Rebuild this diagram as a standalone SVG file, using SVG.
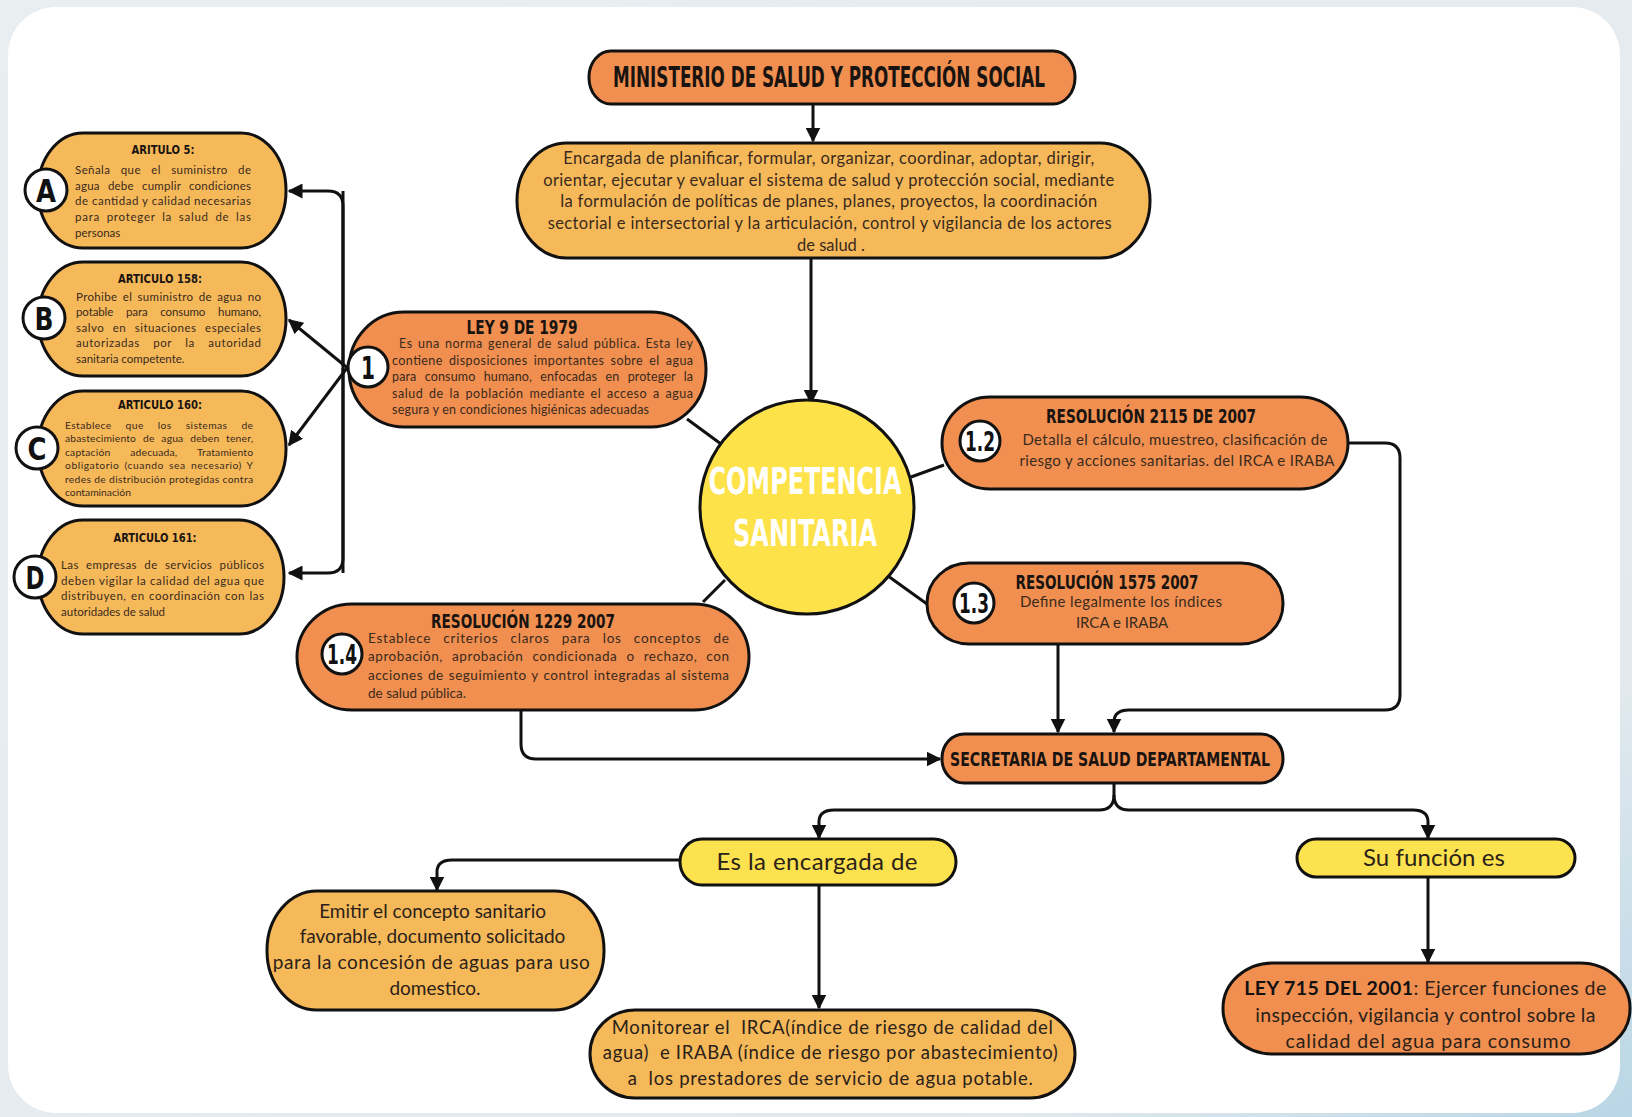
<svg xmlns="http://www.w3.org/2000/svg" width="1632" height="1117" viewBox="0 0 1632 1117">
<defs>
<marker id="ah" viewBox="0 0 10 10" refX="9" refY="5" markerUnits="userSpaceOnUse" markerWidth="15" markerHeight="15" orient="auto">
<path d="M0,0 L10,5 L0,10 z" fill="#111"/>
</marker>
<linearGradient id="bg" x1="0" y1="0" x2="1" y2="1">
<stop offset="0" stop-color="#e9eef1"/>
<stop offset="0.8" stop-color="#e3eaee"/>
<stop offset="1" stop-color="#b9d6e6"/>
</linearGradient>
<style>
.or{fill:#f08f50;stroke:#111;stroke-width:3}
.lo{fill:#f6b95a;stroke:#111;stroke-width:3}
.ye{fill:#fde24f;stroke:#111;stroke-width:3}
.badge{fill:#fff;stroke:#111;stroke-width:3}
.bt{font-family:"Liberation Sans Narrow","DejaVu Sans Condensed","DejaVu Sans",sans-serif;font-weight:bold;fill:#111;text-anchor:middle}
.tt{font-family:"Liberation Sans Narrow","DejaVu Sans Condensed","DejaVu Sans",sans-serif;font-weight:bold;fill:#1a1410;text-anchor:middle}
.body{font-family:Lato,"Open Sans",sans-serif;fill:#3a2a1c}
.mid{text-anchor:middle}
.con{fill:none;stroke:#111;stroke-width:3}
</style>
</defs>
<rect x="0" y="0" width="1632" height="1117" fill="url(#bg)"/>
<rect x="8" y="7" width="1612" height="1106" rx="48" ry="48" fill="#ffffff"/>

<g id="connectors">
<path class="con" d="M813 104 V141" marker-end="url(#ah)"/>
<path class="con" d="M811 258 V403" marker-end="url(#ah)"/>
<path class="con" d="M343 366 V206 Q343 191 328 191 H289" marker-end="url(#ah)"/>
<path class="con" d="M343 368 V558 Q343 573 328 573 H289" marker-end="url(#ah)"/>
<path class="con" d="M350 370 L289 320" marker-end="url(#ah)"/>
<path class="con" d="M350 364 L289 445" marker-end="url(#ah)"/>
<path class="con" d="M343 191 V573"/>
<path class="con" d="M687 419 L721 444"/>
<path class="con" d="M725 580 L703 602"/>
<path class="con" d="M911 477 L944 465"/>
<path class="con" d="M888 576 L927 604"/>
<path class="con" d="M1348 443 H1385 Q1400 443 1400 458 V695 Q1400 710 1385 710 H1129 Q1114 710 1114 722 V732" marker-end="url(#ah)"/>
<path class="con" d="M1058 644 V732" marker-end="url(#ah)"/>
<path class="con" d="M521 710 V744 Q521 759 536 759 H940" marker-end="url(#ah)"/>
<path class="con" d="M1114 783 V795 Q1114 810 1099 810 H834 Q819 810 819 822 V838" marker-end="url(#ah)"/>
<path class="con" d="M1114 795 Q1114 810 1129 810 H1413 Q1428 810 1428 822 V838" marker-end="url(#ah)"/>
<path class="con" d="M680 860 H452 Q437 860 437 872 V890" marker-end="url(#ah)"/>
<path class="con" d="M819 885 V1008" marker-end="url(#ah)"/>
<path class="con" d="M1428 877 V962" marker-end="url(#ah)"/>
</g>

<g id="ministerio">
<rect class="or" x="589" y="51" width="486" height="53" rx="22" ry="26"/>
<text class="tt" x="829" y="87" font-size="28" textLength="432" lengthAdjust="spacingAndGlyphs">MINISTERIO DE SALUD Y PROTECCIÓN SOCIAL</text>
</g>

<g id="encargada">
<rect class="lo" x="517" y="143" width="633" height="115" rx="50" ry="57"/>
<text class="body mid" font-size="16.5">
<tspan x="831" y="164" textLength="531">Encargada de planificar, formular, organizar, coordinar, adoptar, dirigir,</tspan>
<tspan x="831" y="186" textLength="571">orientar, ejecutar y evaluar el sistema de salud y protección social, mediante</tspan>
<tspan x="831" y="207" textLength="537">la formulación de políticas de planes, planes, proyectos, la coordinación</tspan>
<tspan x="832" y="229" textLength="564">sectorial e intersectorial y la articulación, control y vigilancia de los actores</tspan>
<tspan x="831" y="251">de salud .</tspan>
</text>
</g>

<g id="competencia">
<circle cx="807" cy="507" r="107" fill="#fde24a" stroke="#111" stroke-width="3"/>
<text class="bt" x="805" y="494" font-size="38" style="fill:#fff" textLength="193" lengthAdjust="spacingAndGlyphs">COMPETENCIA</text>
<text class="bt" x="805" y="546" font-size="38" style="fill:#fff" textLength="144" lengthAdjust="spacingAndGlyphs">SANITARIA</text>
</g>

<g id="ley9">
<rect class="or" x="349" y="312" width="357" height="115" rx="55" ry="57"/>
<text class="tt" x="522" y="334" font-size="20" textLength="111" lengthAdjust="spacingAndGlyphs">LEY 9 DE 1979</text>
<text class="body" font-size="12.5">
<tspan x="399" y="348" textLength="294" style="word-spacing:1.5px">Es una norma general de salud pública. Esta ley</tspan>
<tspan x="392" y="365" textLength="301" style="word-spacing:2.5px">contiene disposiciones importantes sobre el agua</tspan>
<tspan x="392" y="381" textLength="301" style="word-spacing:5px">para consumo humano, enfocadas en proteger la</tspan>
<tspan x="392" y="398" textLength="301" style="word-spacing:2px">salud de la población mediante el acceso a agua</tspan>
<tspan x="392" y="414" textLength="257">segura y en condiciones higiénicas adecuadas</tspan>
</text>
<circle class="badge" cx="368" cy="367" r="20"/>
<text class="bt" x="368" y="379" font-size="32" textLength="14" lengthAdjust="spacingAndGlyphs">1</text>
</g>

<g id="art5">
<rect class="lo" x="38" y="133" width="248" height="115" rx="45" ry="57"/>
<text class="tt" x="163" y="154" font-size="13" textLength="63" lengthAdjust="spacingAndGlyphs">ARITULO 5:</text>
<text class="body" font-size="11.5">
<tspan x="75" y="174" textLength="176" style="word-spacing:7px">Señala que el suministro de</tspan>
<tspan x="75" y="190" textLength="176" style="word-spacing:5px">agua debe cumplir condiciones</tspan>
<tspan x="75" y="205" textLength="176">de cantidad y calidad necesarias</tspan>
<tspan x="75" y="221" textLength="176" style="word-spacing:3px">para proteger la salud de las</tspan>
<tspan x="75" y="237">personas</tspan>
</text>
<circle class="badge" cx="46" cy="190" r="21"/>
<text class="bt" x="46" y="202" font-size="32" textLength="20" lengthAdjust="spacingAndGlyphs">A</text>
</g>

<g id="art158">
<rect class="lo" x="38" y="262" width="248" height="114" rx="45" ry="57"/>
<text class="tt" x="160" y="283" font-size="13" textLength="84" lengthAdjust="spacingAndGlyphs">ARTICULO 158:</text>
<text class="body" font-size="11.5">
<tspan x="76" y="301" textLength="185" style="word-spacing:2px">Prohibe el suministro de agua no</tspan>
<tspan x="76" y="316" textLength="185" style="word-spacing:10px">potable para consumo humano,</tspan>
<tspan x="76" y="332" textLength="185" style="word-spacing:5px">salvo en situaciones especiales</tspan>
<tspan x="76" y="347" textLength="185" style="word-spacing:10px">autorizadas por la autoridad</tspan>
<tspan x="76" y="363">sanitaria competente.</tspan>
</text>
<circle class="badge" cx="44" cy="318" r="21"/>
<text class="bt" x="44" y="330" font-size="32" textLength="19" lengthAdjust="spacingAndGlyphs">B</text>
</g>

<g id="art160">
<rect class="lo" x="38" y="391" width="248" height="115" rx="45" ry="57"/>
<text class="tt" x="160" y="409" font-size="13" textLength="84" lengthAdjust="spacingAndGlyphs">ARTICULO 160:</text>
<text class="body" font-size="10.3">
<tspan x="65" y="429" textLength="188" style="word-spacing:11px">Establece que los sistemas de</tspan>
<tspan x="65" y="442" textLength="188" style="word-spacing:4px">abastecimiento de agua deben tener,</tspan>
<tspan x="65" y="456" textLength="188" style="word-spacing:17px">captación adecuada, Tratamiento</tspan>
<tspan x="65" y="469" textLength="188" style="word-spacing:2px">obligatorio (cuando sea necesario) Y</tspan>
<tspan x="65" y="483" textLength="188">redes de distribución protegidas contra</tspan>
<tspan x="65" y="496">contaminación</tspan>
</text>
<circle class="badge" cx="37" cy="448" r="21"/>
<text class="bt" x="37" y="460" font-size="32" textLength="19" lengthAdjust="spacingAndGlyphs">C</text>
</g>

<g id="art161">
<rect class="lo" x="38" y="520" width="246" height="114" rx="45" ry="57"/>
<text class="tt" x="155" y="542" font-size="13" textLength="83" lengthAdjust="spacingAndGlyphs">ARTICULO 161:</text>
<text class="body" font-size="11.5">
<tspan x="61" y="569" textLength="203" style="word-spacing:4px">Las empresas de servicios públicos</tspan>
<tspan x="61" y="585" textLength="203">deben vigilar la calidad del agua que</tspan>
<tspan x="61" y="600" textLength="203" style="word-spacing:1px">distribuyen, en coordinación con las</tspan>
<tspan x="61" y="616">autoridades de salud</tspan>
</text>
<circle class="badge" cx="35" cy="577" r="21"/>
<text class="bt" x="35" y="589" font-size="32" textLength="19" lengthAdjust="spacingAndGlyphs">D</text>
</g>

<g id="res1229">
<rect class="or" x="297" y="604" width="452" height="106" rx="55" ry="53"/>
<text class="tt" x="523" y="628" font-size="20" textLength="184" lengthAdjust="spacingAndGlyphs">RESOLUCIÓN 1229 2007</text>
<text class="body" font-size="13.5">
<tspan x="368" y="643" textLength="361" style="word-spacing:8px">Establece criterios claros para los conceptos de</tspan>
<tspan x="368" y="661" textLength="361" style="word-spacing:5px">aprobación, aprobación condicionada o rechazo, con</tspan>
<tspan x="368" y="680" textLength="361" style="word-spacing:1px">acciones de seguimiento y control integradas al sistema</tspan>
<tspan x="368" y="698">de salud pública.</tspan>
</text>
<circle class="badge" cx="342" cy="654" r="20"/>
<text class="bt" x="342" y="664" font-size="26" textLength="30" lengthAdjust="spacingAndGlyphs">1.4</text>
</g>

<g id="res2115">
<rect class="or" x="942" y="397" width="406" height="92" rx="48" ry="46"/>
<text class="tt" x="1151" y="423" font-size="20" textLength="210" lengthAdjust="spacingAndGlyphs">RESOLUCIÓN 2115 DE 2007</text>
<text class="body mid" font-size="15">
<tspan x="1177" y="445" textLength="305">Detalla el cálculo, muestreo, clasificación de</tspan>
<tspan x="1177" y="466" textLength="315">riesgo y acciones sanitarias. del IRCA e IRABA</tspan>
</text>
<circle class="badge" cx="980" cy="441" r="20"/>
<text class="bt" x="980" y="451" font-size="26" textLength="30" lengthAdjust="spacingAndGlyphs">1.2</text>
</g>

<g id="res1575">
<rect class="or" x="927" y="563" width="356" height="81" rx="42" ry="40"/>
<text class="tt" x="1107" y="589" font-size="20" textLength="183" lengthAdjust="spacingAndGlyphs">RESOLUCIÓN 1575 2007</text>
<text class="body mid" font-size="15">
<tspan x="1123" y="607" textLength="202">Define legalmente los índices</tspan>
<tspan x="1122" y="628">IRCA e IRABA</tspan>
</text>
<circle class="badge" cx="974" cy="603" r="20"/>
<text class="bt" x="974" y="613" font-size="26" textLength="30" lengthAdjust="spacingAndGlyphs">1.3</text>
</g>

<g id="secretaria">
<rect class="or" x="942" y="734" width="341" height="49" rx="22" ry="24"/>
<text class="tt" x="1110" y="766" font-size="20" textLength="320" lengthAdjust="spacingAndGlyphs">SECRETARIA DE SALUD DEPARTAMENTAL</text>
</g>

<g id="es-la-encargada">
<rect class="ye" x="680" y="839" width="276" height="46" rx="22" ry="23"/>
<text class="body mid" x="817" y="870" font-size="24" textLength="201" style="fill:#2a2118">Es la encargada de</text>
</g>

<g id="su-funcion">
<rect class="ye" x="1297" y="839" width="278" height="38" rx="19" ry="19"/>
<text class="body mid" x="1434" y="866" font-size="24" textLength="142" style="fill:#2a2118">Su función es</text>
</g>

<g id="emitir">
<rect class="lo" x="267" y="891" width="337" height="119" rx="50" ry="59"/>
<text class="body mid" font-size="19" style="fill:#2a2118">
<tspan x="435" y="918">Emitir el concepto sanitario</tspan>
<tspan x="435" y="943">favorable, documento solicitado</tspan>
<tspan x="434" y="969" textLength="317">para la concesión de aguas para uso</tspan>
<tspan x="435" y="995">domestico.</tspan>
</text>
</g>

<g id="monitorear">
<rect class="lo" x="590" y="1010" width="485" height="88" rx="45" ry="44"/>
<text class="body mid" font-size="18.5" style="fill:#2a2118" xml:space="preserve">
<tspan x="835" y="1034" textLength="441">Monitorear el  IRCA(índice de riesgo de calidad del</tspan>
<tspan x="833" y="1059" textLength="455">agua)  e IRABA (índice de riesgo por abastecimiento)</tspan>
<tspan x="833" y="1085" textLength="405">a  los prestadores de servicio de agua potable.</tspan>
</text>
</g>

<g id="ley715">
<rect class="or" x="1223" y="963" width="407" height="91" rx="50" ry="45"/>
<text class="body mid" font-size="19.5" style="fill:#2a2118">
<tspan x="1428" y="995" textLength="362"><tspan font-weight="bold" style="fill:#111">LEY 715 DEL 2001</tspan>: Ejercer funciones de</tspan>
<tspan x="1428" y="1022" textLength="340">inspección, vigilancia y control sobre la</tspan>
<tspan x="1428" y="1048" textLength="285">calidad del agua para consumo</tspan>
</text>
</g>
</svg>
